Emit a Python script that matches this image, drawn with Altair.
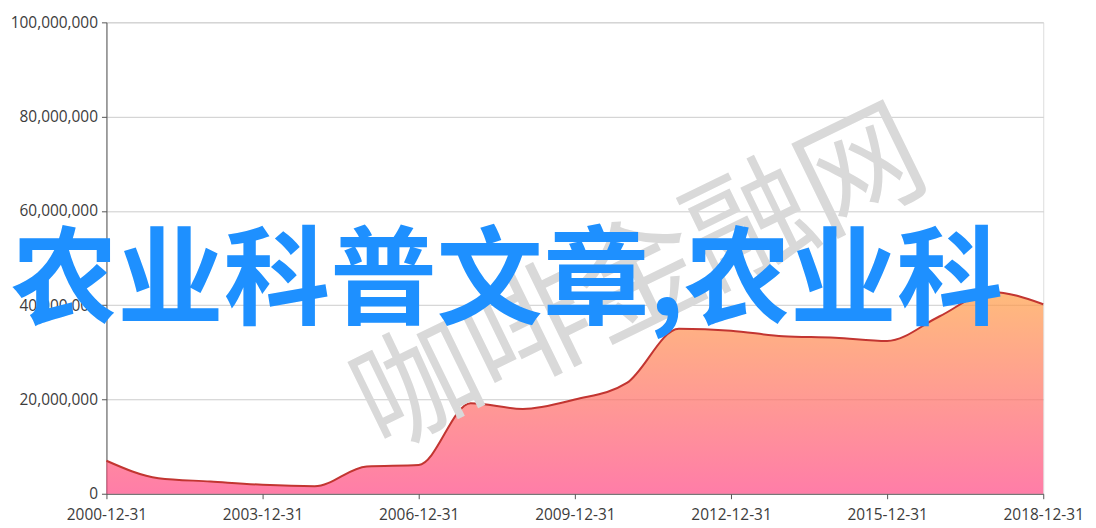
import altair as alt
import pandas as pd

dates = ["2000-12-31", "2001-12-31", "2002-12-31", "2003-12-31", "2004-12-31",
         "2005-12-31", "2006-12-31", "2007-12-31", "2008-12-31", "2009-12-31",
         "2010-12-31", "2011-12-31", "2012-12-31", "2013-12-31", "2014-12-31",
         "2015-12-31", "2016-12-31", "2017-12-31", "2018-12-31"]
values = [7.0e6, 3.3e6, 2.6e6, 1.9e6, 1.6e6,
          5.8e6, 6.1e6, 19.2e6, 18.0e6, 20.0e6,
          23.5e6, 35.0e6, 34.6e6, 33.4e6, 33.1e6,
          32.4e6, 37.6e6, 42.8e6, 40.2e6]
tick_years = [2000, 2003, 2006, 2009, 2012, 2015, 2018]
y_ticks = [0, 20000000, 40000000, 60000000, 80000000, 100000000]
title_text = "农业科普文章,农业科"
watermark_text = "咖啡金融网"

df = pd.DataFrame({"date": dates, "value": values})

x_enc = alt.X(
    "date:T",
    scale=alt.Scale(type="utc", domain=[alt.DateTime(year=2000, month=12, date=31, utc=True),
                                        alt.DateTime(year=2018, month=12, date=31, utc=True)], nice=False),
    axis=alt.Axis(
        values=[alt.DateTime(year=y, month=12, date=31, utc=True) for y in tick_years],
        format="%Y-%m-%d", title=None, grid=False,
        labelFont="Open Sans", labelFontSize=15.5, labelColor="#3c3c3c",
        domainColor="#555555", tickColor="#555555", tickSize=5, labelPadding=9,
        labelFlush=False, labelOverlap=False,
    ),
)
y_enc = alt.Y(
    "value:Q",
    scale=alt.Scale(domain=[0, 100000000], nice=False),
    axis=alt.Axis(
        values=y_ticks, format=",d", title=None, grid=True, gridColor="#cccccc",
        labelFont="Open Sans", labelFontSize=15.5, labelColor="#3c3c3c",
        domainColor="#555555", tickColor="#555555", tickSize=5, labelPadding=4,
    ),
)

gradient = alt.Gradient(
    gradient="linear",
    stops=[alt.GradientStop(color="rgb(255,158,68)", offset=0),
           alt.GradientStop(color="rgb(255,70,131)", offset=1)],
    x1=1, x2=1, y1=0, y2=1,
)

base = alt.Chart(df)
area = base.mark_area(interpolate="monotone", color=gradient, fillOpacity=0.7).encode(x=x_enc, y=y_enc)
line = base.mark_line(interpolate="monotone", color="#c23531", strokeWidth=2).encode(x=x_enc, y=y_enc)

wm = alt.Chart(pd.DataFrame({"t": [watermark_text]})).mark_text(
    font="Noto Sans CJK SC", fontSize=124, fontWeight="normal", color="#d9d9d9",
    align="center", baseline="middle", angle=334,
).encode(text="t:N", x=alt.value(538), y=alt.value(262))

title = alt.Chart(pd.DataFrame({"t": [title_text]})).mark_text(
    font="Noto Sans CJK SC", fontSize=107, fontWeight="bold", color="#1e90ff",
    align="left", baseline="alphabetic",
).encode(text="t:N", x=alt.value(-96), y=alt.value(295))

chart = alt.layer(area, line, wm, title).properties(
    width=942, height=474,
    autosize=alt.AutoSizeParams(type="none"),
    padding={"left": 99, "top": 13, "right": 45, "bottom": 30},
).configure_view(stroke=None).configure(background="white")

chart.save("out.html", embed_options={"renderer": "svg", "actions": False})
